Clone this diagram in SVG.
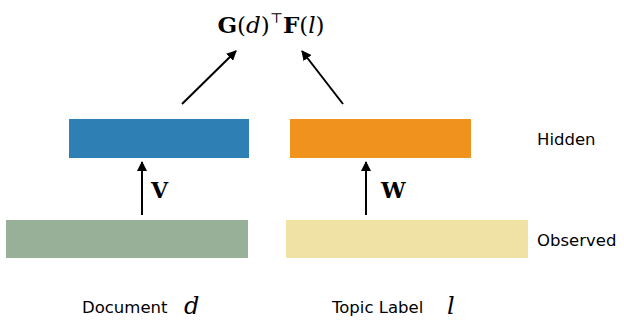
<svg xmlns="http://www.w3.org/2000/svg" width="624" height="322" viewBox="0 0 624 322">
<style>
.lbl{font-family:"DejaVu Sans","Liberation Sans",sans-serif;font-size:16.5px;fill:#000}
.math{font-family:"DejaVu Serif","Liberation Serif",serif;fill:#000}
.conn line{stroke:#000;stroke-width:2;fill:none}
</style>
<defs>
<marker id="ah" viewBox="0 0 10 10" refX="9" refY="5" markerWidth="5" markerHeight="5" orient="auto" markerUnits="strokeWidth">
<path d="M0,0 L10,5 L0,10 z" fill="#000"/>
</marker>
</defs>
<rect width="624" height="322" fill="#fff"/>
<g id="formula">
<text class="math" x="271" y="33" text-anchor="middle" font-size="23"><tspan font-weight="bold">G</tspan>(<tspan font-style="italic">d</tspan>)<tspan font-size="14" dy="-10">⊤</tspan><tspan dy="10" font-weight="bold">F</tspan>(<tspan font-style="italic">l</tspan>)</text>
</g>
<g id="hidden-doc"><rect x="69" y="119" width="180" height="39" fill="#2e7fb4"/></g>
<g id="hidden-topic"><rect x="290" y="119" width="181" height="39" fill="#f0921e"/></g>
<g id="observed-doc"><rect x="6" y="220" width="242" height="38" fill="#98b098"/></g>
<g id="observed-topic"><rect x="286" y="220" width="242" height="38" fill="#f0e1a4"/></g>
<g id="conn" class="conn">
<line x1="142" y1="215" x2="142" y2="162" marker-end="url(#ah)"/>
<line x1="366" y1="215" x2="366" y2="162" marker-end="url(#ah)"/>
<line x1="182" y1="104" x2="236" y2="51" marker-end="url(#ah)"/>
<line x1="343" y1="104" x2="302" y2="51" marker-end="url(#ah)"/>
</g>
<g id="labels">
<text class="math" x="151" y="198" font-size="22" font-weight="bold">V</text>
<text class="math" x="381" y="198" font-size="22" font-weight="bold">W</text>
<text class="lbl" x="537" y="145">Hidden</text>
<text class="lbl" x="537" y="246">Observed</text>
<text class="lbl" x="82" y="313">Document</text>
<text class="math" x="184" y="314" font-size="24" font-style="italic">d</text>
<text class="lbl" x="332" y="313">Topic Label</text>
<text class="math" x="447" y="314" font-size="24" font-style="italic">l</text>
</g>
</svg>
